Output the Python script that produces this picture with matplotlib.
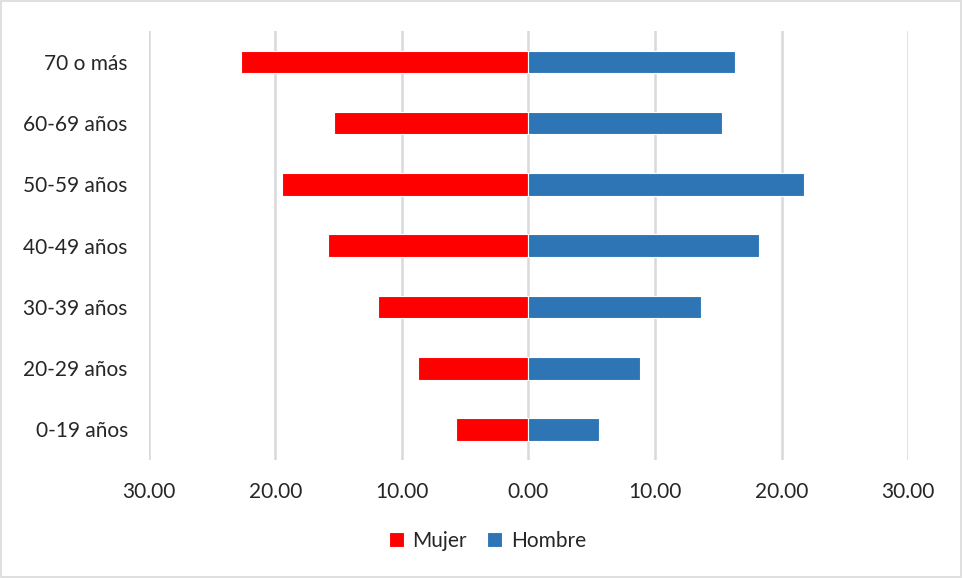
import matplotlib
matplotlib.use("Agg")
import matplotlib.pyplot as plt
from matplotlib.patches import Rectangle
from matplotlib.ticker import FuncFormatter

plt.rcParams["font.family"] = ["Lato", "DejaVu Sans"]

grupos = ["0-19 años", "20-29 años", "30-39 años", "40-49 años",
          "50-59 años", "60-69 años", "70 o más"]
mujer = [5.74, 8.76, 11.92, 15.87, 19.50, 15.34, 22.73]
hombre = [5.58, 8.84, 13.63, 18.20, 21.77, 15.26, 16.30]
ticks = [-30, -20, -10, 0, 10, 20, 30]

fig = plt.figure(figsize=(9.63, 5.78), dpi=100)
ax = fig.add_axes([0.1544, 0.204, 0.7886, 0.742])

pos = range(len(grupos))
ax.barh(pos, [-v for v in mujer], height=0.37, color="#ff0000",
        edgecolor="white", linewidth=0.8, label="Mujer", zorder=3)
ax.barh(pos, hombre, height=0.37, color="#2e75b6",
        edgecolor="white", linewidth=0.8, label="Hombre", zorder=3)

ax.set_xlim(-30, 30)
ax.set_ylim(-0.5, len(grupos) - 0.5)
ax.set_xticks(ticks)
ax.xaxis.set_major_formatter(FuncFormatter(lambda v, p: "%.2f" % abs(v)))
ax.set_yticks(list(pos))
ax.set_yticklabels(grupos)
ax.tick_params(axis="both", length=0, labelsize=15, colors="#262626")
ax.tick_params(axis="x", pad=16)
ax.tick_params(axis="y", pad=15)
ax.grid(axis="x", color="#d9d9d9", linewidth=1.8, zorder=0)
for s in ax.spines.values():
    s.set_visible(False)

fig.legend(loc="center", bbox_to_anchor=(0.506, 0.064), ncol=2, frameon=False,
           fontsize=15, handlelength=0.72, handleheight=0.72,
           handletextpad=0.4, columnspacing=1.0, labelcolor="#262626")

fig.patches.append(Rectangle((0.001, 0.001), 0.997, 0.997, transform=fig.transFigure,
                             fill=False, edgecolor="#d9d9d9", linewidth=1.2))

fig.savefig("out.png", dpi=100)
